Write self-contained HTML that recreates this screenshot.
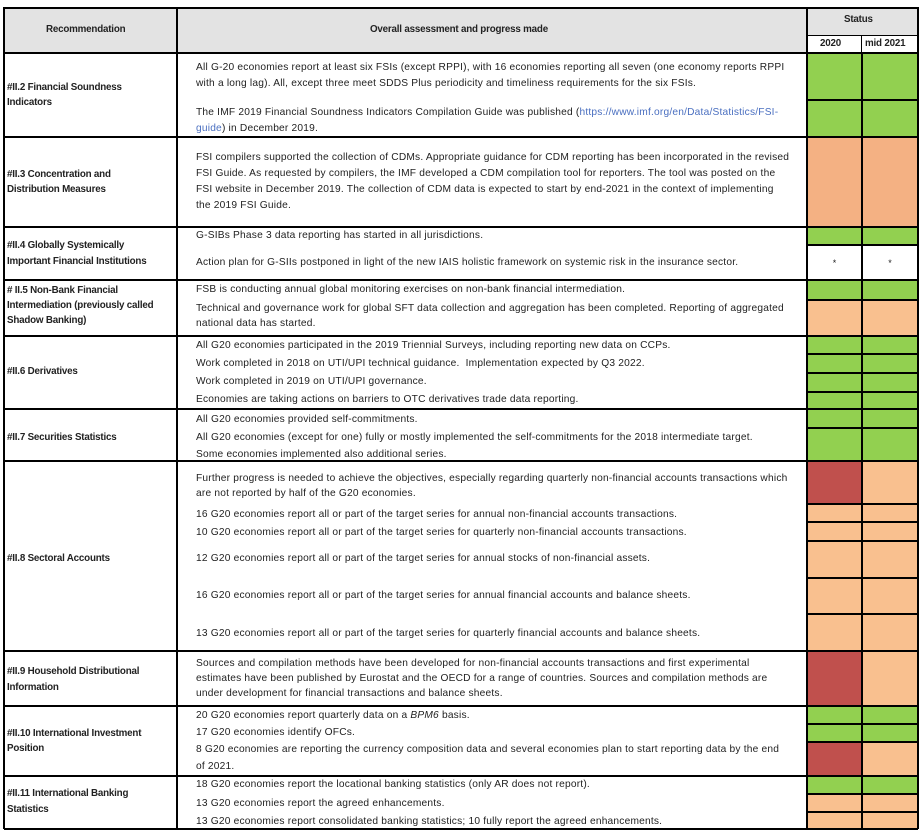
<!DOCTYPE html>
<html><head><meta charset="utf-8">
<style>
body{margin:0;background:#fff;}
#t{position:relative;width:923px;height:836px;font-family:"Liberation Sans",sans-serif;color:#222;overflow:hidden;}
.c{position:absolute;box-sizing:border-box;}
.tx{position:absolute;font-size:10.2px;white-space:nowrap;line-height:12px;transform:translateY(-50%);letter-spacing:0.2px;}
.lb{position:absolute;font-size:9.8px;font-weight:bold;white-space:nowrap;line-height:12px;transform:translateY(-50%);left:7px;letter-spacing:-0.2px;}
.hl{position:absolute;background:#000;}
</style></head><body>
<div id="t"></div>
<script>
const T=document.getElementById('t');
const X0=4,X1=177,X2=807,X3=862,X4=918;
const G='#92d050',O='#f9c08f',OD='#f4b183',R='#c0504d',W='#ffffff';
function box(x,y,w,h,bg,name){const d=document.createElement('div');d.className='c';d.style.cssText+=`left:${x}px;top:${y}px;width:${w}px;height:${h}px;background:${bg};`;


T.appendChild(d);return d;}
function txt(cls,x,y,s,name){const d=document.createElement('div');d.className=cls;d.style.left=x+'px';d.style.top=y+'px';d.innerHTML=s;


T.appendChild(d);return d;}
function line(x,y,w,h){const d=document.createElement('div');d.className='hl';d.style.cssText+=`left:${x}px;top:${y}px;width:${w}px;height:${h}px;`;


T.appendChild(d);}
// header
box(X0,7,X4-X0,45,'#e3e3e3','header-row');
box(X3-1,36,X4-X3+1,16,'#fff','header-mid2021-cell');
box(X2,36,X3-X2,16,'#fff','header-2020-cell');
txt('lb',46,30,'Recommendation','header-recommendation').style.left='46px';
txt('lb',370,30,'Overall assessment and progress made','header-assessment');
txt('lb',844,20,'Status','header-status');
txt('lb',820,44,'2020','header-2020');
txt('lb',865,44,'mid 2021','header-mid-2021');
const groups=[
 {y0:52,y1:137,label:['#II.2 Financial Soundness','Indicators'],ly:[88,103],
  cells:[[52,100,G,G],[100,137,G,G]],
  lines:[[68,'All G-20 economies report at least six FSIs (except RPPI), with 16 economies reporting all seven (one economy reports RPPI'],[84,'with a long lag). All, except three meet SDDS Plus periodicity and timeliness requirements for the six FSIs.'],[113,'The IMF 2019 Financial Soundness Indicators Compilation Guide was published (<span style="color:#4a6fc0">https://www.imf.org/en/Data/Statistics/FSI-</span>'],[129,'<span style="color:#4a6fc0">guide</span>) in December 2019.']]},
 {y0:137,y1:227,label:['#II.3 Concentration and','Distribution Measures'],ly:[175,190],
  cells:[[137,227,OD,OD]],
  lines:[[158,'FSI compilers supported the collection of CDMs. Appropriate guidance for CDM reporting has been incorporated in the revised'],[174,'FSI Guide. As requested by compilers, the IMF developed a CDM compilation tool for reporters. The tool was posted on the'],[190,'FSI website in December 2019. The collection of CDM data is expected to start by end-2021 in the context of implementing'],[206,'the 2019 FSI Guide.']]},
 {y0:227,y1:280,label:['#II.4 Globally Systemically','Important Financial Institutions'],ly:[246,262],
  cells:[[227,245,G,G],[245,280,W,W,'*']],
  lines:[[236,'G-SIBs Phase 3 data reporting has started in all jurisdictions.'],[263,'Action plan for G-SIIs postponed in light of the new IAIS holistic framework on systemic risk in the insurance sector.']]},
 {y0:280,y1:336,label:['# II.5 Non-Bank Financial','Intermediation (previously called','Shadow Banking)'],ly:[291,306,321],
  cells:[[280,300,G,G],[300,336,O,O]],
  lines:[[290,'FSB is conducting annual global monitoring exercises on non-bank financial intermediation.'],[309,'Technical and governance work for global SFT data collection and aggregation has been completed. Reporting of aggregated'],[324,'national data has started.']]},
 {y0:336,y1:409,label:['#II.6 Derivatives'],ly:[372],
  cells:[[336,354,G,G],[354,373,G,G],[373,392,G,G],[392,409,G,G]],
  lines:[[346,'All G20 economies participated in the 2019 Triennial Surveys, including reporting new data on CCPs.'],[364,'Work completed in 2018 on UTI/UPI technical guidance.&nbsp; Implementation expected by Q3 2022.'],[382,'Work completed in 2019 on UTI/UPI governance.'],[400,'Economies are taking actions on barriers to OTC derivatives trade data reporting.']]},
 {y0:409,y1:461,label:['#II.7 Securities Statistics'],ly:[438],
  cells:[[409,428,G,G],[428,461,G,G]],
  lines:[[420,'All G20 economies provided self-commitments.'],[438,'All G20 economies (except for one) fully or mostly implemented the self-commitments for the 2018 intermediate target.'],[455,'Some economies implemented also additional series.']]},
 {y0:461,y1:651,label:['#II.8 Sectoral Accounts'],ly:[559],
  cells:[[461,504,R,O],[504,522,O,O],[522,541,O,O],[541,578,O,O],[578,614,O,O],[614,651,O,O]],
  lines:[[479,'Further progress is needed to achieve the objectives, especially regarding quarterly non-financial accounts transactions which'],[494,'are not reported by half of the G20 economies.'],[515,'16 G20 economies report all or part of the target series for annual non-financial accounts transactions.'],[533,'10 G20 economies report all or part of the target series for quarterly non-financial accounts transactions.'],[559,'12 G20 economies report all or part of the target series for annual stocks of non-financial assets.'],[596,'16 G20 economies report all or part of the target series for annual financial accounts and balance sheets.'],[634,'13 G20 economies report all or part of the target series for quarterly financial accounts and balance sheets.']]},
 {y0:651,y1:706,label:['#II.9 Household Distributional','Information'],ly:[672,688],
  cells:[[651,706,R,O]],
  lines:[[664,'Sources and compilation methods have been developed for non-financial accounts transactions and first experimental'],[679,'estimates have been published by Eurostat and the OECD for a range of countries. Sources and compilation methods are'],[694,'under development for financial transactions and balance sheets.']]},
 {y0:706,y1:776,label:['#II.10 International Investment','Position'],ly:[734,749],
  cells:[[706,724,G,G],[724,742,G,G],[742,776,R,O]],
  lines:[[716,'20 G20 economies report quarterly data on a <i>BPM6</i> basis.'],[733,'17 G20 economies identify OFCs.'],[750,'8 G20 economies are reporting the currency composition data and several economies plan to start reporting data by the end'],[767,'of 2021.']]},
 {y0:776,y1:829,label:['#II.11 International Banking','Statistics'],ly:[794,810],
  cells:[[776,794,G,G],[794,812,O,O],[812,829,O,O]],
  lines:[[785,'18 G20 economies report the locational banking statistics (only AR does not report).'],[804,'13 G20 economies report the agreed enhancements.'],[822,'13 G20 economies report consolidated banking statistics; 10 fully report the agreed enhancements.']]}
];
groups.forEach((g,gi)=>{
  g.cells.forEach((c,ci)=>{
    const a=box(X2,c[0],X3-X2,c[1]-c[0],c[2],'status-2020-cell');
    const b=box(X3,c[0],X4-X3,c[1]-c[0],c[3],'status-mid2021-cell');
    a.style.border=b.style.border='1px solid #000';
    if(c[4]){[a,b].forEach(e=>{e.style.textAlign='center';e.style.fontSize='9px';e.style.lineHeight=(c[1]-c[0])+'px';e.textContent='*';});}
  });
  g.label.forEach((l,i)=>txt('lb',7,g.ly[i],l,'recommendation-label'));
  g.lines.forEach(l=>txt('tx',196,l[0],l[1],'assessment-text'));
  line(X0,g.y1-1,X4-X0,2);
});
line(X0,7,X4-X0,2);
line(X0,52,X4-X0,2);
line(X2,35,X4-X2,1);
line(X0-1,7,2,822);
line(X1-1,7,2,822);
line(X2-1,7,2,822);
line(X3-1,36,1,793);
line(X4-1,7,2,822);
</script>
</body></html>
